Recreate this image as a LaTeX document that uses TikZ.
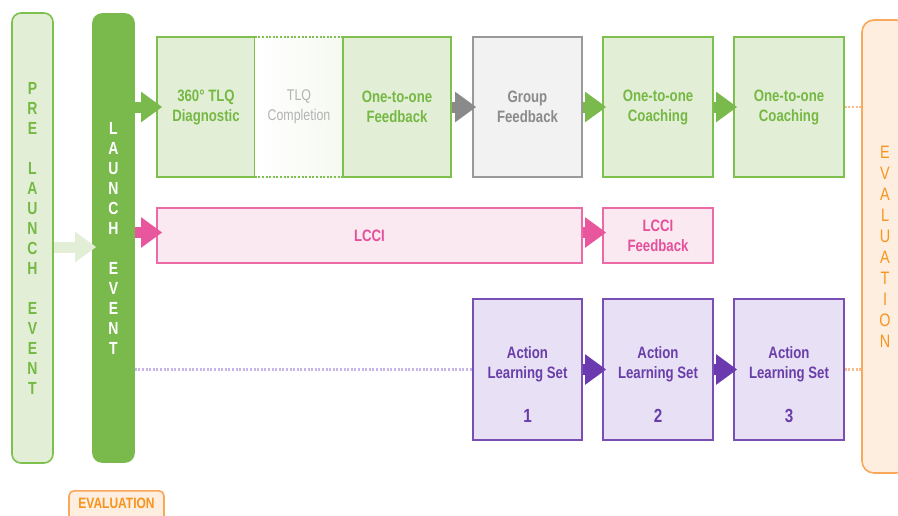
\documentclass[tikz,border=0pt]{standalone}
\usepackage{fontspec}
\setmainfont[FakeStretch=0.8]{Liberation Sans}
\usetikzlibrary{arrows.meta}
\definecolor{gline}{HTML}{7DC04E}
\definecolor{gfill}{HTML}{E2EFD6}
\definecolor{gtext}{HTML}{76B844}
\definecolor{gdark}{HTML}{7AB94C}
\definecolor{glight}{HTML}{E2EFD6}
\definecolor{grline}{HTML}{999999}
\definecolor{grfill}{HTML}{F2F2F2}
\definecolor{grtext}{HTML}{8A8A8A}
\definecolor{pline}{HTML}{EC6AA6}
\definecolor{pfill}{HTML}{FBE9F2}
\definecolor{ptext}{HTML}{E4509A}
\definecolor{parrow}{HTML}{E8579E}
\definecolor{vline}{HTML}{7A4FB5}
\definecolor{vfill}{HTML}{E8E1F5}
\definecolor{vtext}{HTML}{6A3EA8}
\definecolor{varrow}{HTML}{6B3AAE}
\definecolor{vdot}{HTML}{C8B6EA}
\definecolor{oline}{HTML}{F9A75A}
\definecolor{ofill}{HTML}{FDEEE0}
\definecolor{otext}{HTML}{F7941D}
\definecolor{odot}{HTML}{F6BE8C}
\begin{document}
\begin{tikzpicture}[x=1pt,y=-1pt,
  boxtext/.style={font=\bfseries\fontsize{16.5}{20}\selectfont},
  stage/.style={draw, line width=1.6pt, inner sep=0pt, align=center, boxtext},
  gbox/.style={stage, draw=gline, fill=gfill, text=gtext},
  grbox/.style={stage, draw=grline, fill=grfill, text=grtext},
  pbox/.style={stage, draw=pline, fill=pfill, text=ptext},
  vbox/.style={stage, draw=vline, fill=vfill, text=vtext},
  vbar/.style={rounded corners=9pt, line width=1.6pt, inner sep=0pt, align=center,
    font=\bfseries\fontsize{17.5}{20}\selectfont},
  blockarrow/.style={line width=11pt, -{Triangle[length=21pt,width=29pt]}},
  dotline/.style={line width=2.2pt, dash pattern=on 2pt off 1.6pt}
]
\clip (0,0) rectangle (898,515);
\useasboundingbox (0,0) rectangle (898,515);

% vertical bars
\node[vbar, draw=gline, fill=glight, text=gtext, minimum width=41pt, minimum height=450pt]
  (pre) at (32.5,238) {P\\R\\E\\~\\L\\A\\U\\N\\C\\H\\~\\E\\V\\E\\N\\T};
\node[vbar, draw=gdark, fill=gdark, text=white, minimum width=41pt, minimum height=448pt]
  (launch) at (113.5,238) {L\\A\\U\\N\\C\\H\\~\\E\\V\\E\\N\\T};
\node[vbar, rounded corners=12pt, draw=oline, fill=ofill, text=otext, minimum width=46pt, minimum height=453pt,
  font=\fontsize{18}{21}\selectfont]
  (evalr) at (885,246.5) {E\\V\\A\\L\\U\\A\\T\\I\\O\\N};
\node[draw=oline, fill=ofill, rounded corners=5pt, line width=1.6pt,
  minimum width=95pt, minimum height=40pt, inner sep=0pt, anchor=north] (evalb) at (116.5,490) {};
\node[text=otext, font=\bfseries\fontsize{15}{15}\selectfont] (evalbt) at (116.5,503.5) {EVALUATION};

% top row
\node[gbox, minimum width=98pt, minimum height=140pt] (diag) at (206,107) {360° TLQ\\Diagnostic};
\node[inner sep=0pt, minimum width=88pt, minimum height=140pt, left color=white, right color=gfill!35,
  align=center, text=grtext!65, font=\fontsize{15.5}{20}\selectfont] (compl) at (299,107) {TLQ\\Completion};
\draw[gline, dotline, line width=1.6pt] (compl.north west) -- (compl.north east);
\draw[gline, dotline, line width=1.6pt] (compl.south west) -- (compl.south east);
\node[gbox, minimum width=108pt, minimum height=140pt] (fb1) at (397,107) {One-to-one\\Feedback};
\node[grbox, minimum width=109pt, minimum height=140pt] (grp) at (527.5,107) {Group\\Feedback};
\node[gbox, minimum width=110pt, minimum height=140pt] (coach1) at (658,107) {One-to-one\\Coaching};
\node[gbox, minimum width=110pt, minimum height=140pt] (coach2) at (789,107) {One-to-one\\Coaching};

% LCCI row
\node[pbox, minimum width=425pt, minimum height=55pt] (lcci) at (369.5,235.5) {LCCI};
\node[pbox, minimum width=110pt, minimum height=55pt] (lccifb) at (658,235.5) {LCCI\\Feedback};

% action learning sets
\node[vbox, minimum width=109pt, minimum height=141pt] (als1) at (527.5,369.5) {};
\node[vbox, minimum width=110pt, minimum height=141pt] (als2) at (658,369.5) {};
\node[vbox, minimum width=110pt, minimum height=141pt] (als3) at (789,369.5) {};
\foreach \n/\k in {als1/1,als2/2,als3/3}{
  \node[text=vtext, align=center, boxtext] at ([yshift=5pt]\n.center) {Action\\Learning Set};
  \node[text=vtext, font=\bfseries\fontsize{19}{20}\selectfont] at ([yshift=-46pt]\n.center) {\k};
}

% dotted connectors
\draw[dotline, vdot] (launch.east |- als1.west) -- (als1.west);
\draw[dotline, odot] (als3.east) -- (evalr.west |- als3.east);
\draw[dotline, odot] (coach2.east) -- (evalr.west |- coach2.east);

% block arrows
\draw[blockarrow, gdark] (launch.east |- diag.west) -- ([xshift=6pt]diag.west);
\draw[blockarrow, grtext] (fb1.east) -- ([xshift=4pt]grp.west);
\draw[blockarrow, gdark] (grp.east) -- ([xshift=4pt]coach1.west);
\draw[blockarrow, gdark] (coach1.east) -- ([xshift=4pt]coach2.west);
\draw[blockarrow, parrow] ([yshift=3pt]launch.east |- lcci.west) -- ([yshift=3pt,xshift=6pt]lcci.west);
\draw[blockarrow, parrow] ([yshift=3pt]lcci.east) -- ([yshift=3pt,xshift=4pt]lccifb.west);
\draw[blockarrow, glight] ([yshift=-9pt]pre.east) -- ([yshift=-9pt,xshift=4pt]launch.west);
\draw[blockarrow, varrow] (als1.east) -- ([xshift=4pt]als2.west);
\draw[blockarrow, varrow] (als2.east) -- ([xshift=4pt]als3.west);
\end{tikzpicture}
\end{document}
